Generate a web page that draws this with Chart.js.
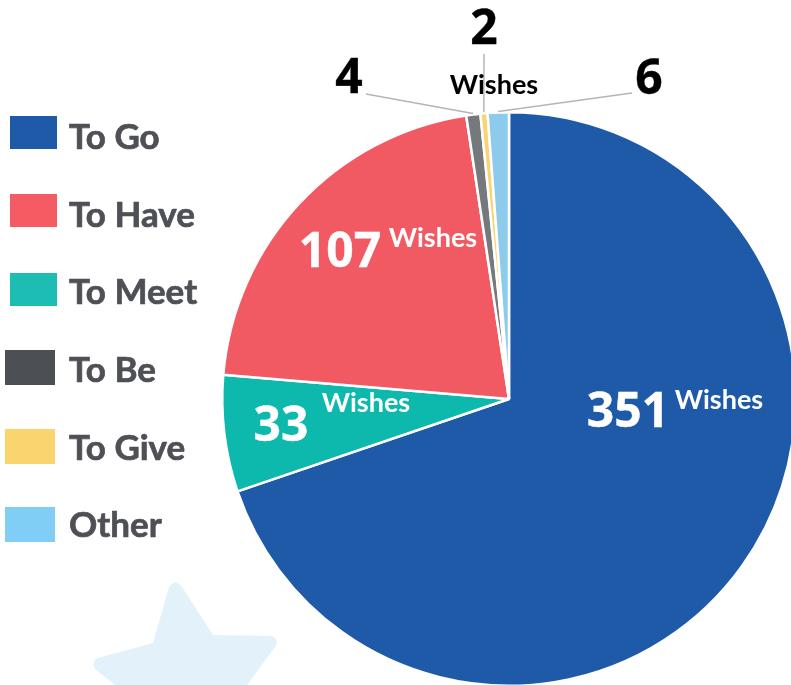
<!DOCTYPE html>
<html>
<head>
<meta charset="utf-8">
<style>
  html, body { margin: 0; padding: 0; background: #fff; overflow: hidden; width: 791px; height: 685px; }
  #wrap { position: relative; width: 791px; height: 685px; overflow: hidden; }
  #star { position: absolute; left: 0; top: 0; }
  #chart { position: absolute; left: 0; top: 0; }
</style>
<script src="https://cdn.jsdelivr.net/npm/chart.js@4"></script>
</head>
<body>
<div id="wrap">
  <svg id="star" width="791" height="685">
    <path d="M169 587 Q175 578 182 587 L213 635 L270 636 Q280 638 275 647 L247 685 L115 685 L96 670 Q90 662 98 658 L153 643 L169 587 Z" fill="#e3f1fb"/>
  </svg>
  <canvas id="chart" width="800" height="690" style="width:800px;height:690px"></canvas>
</div>
<script>
// slices go clockwise from the top
const categories = ['To Go', 'To Meet', 'To Have', 'To Be', 'To Give', 'Other'];
const wishes = [351, 33, 107, 4, 2, 6];
const sliceColors = ['#1f5aa8', '#0db8ad', '#f25a63', '#76797c', '#fbd36f', '#8ccbec'];

const legendOrder = ['To Go', 'To Have', 'To Meet', 'To Be', 'To Give', 'Other'];
const legendColors = ['#1f5aa8', '#f55b63', '#1dbdb3', '#4c4f54', '#fad56f', '#80cef5'];
const legendBoxes = [[10, 116, 47, 33], [10, 194, 47, 33], [10, 273, 47, 33], [5, 350, 50, 35], [5, 429, 50, 35], [5, 507, 50, 35]];
const legendTextY = [138, 216, 293, 371, 449, 526];

const unit = 'Wishes';
// big number x, y, colour, then where the unit word goes
const valueLabels = [
  [628, 413, '#fff', 719, 400],
  [281, 427, '#fff', 366, 403],
  [340, 253, '#fff', 433, 238],
  [349, 79, '#000', null, null],
  [484, 30, '#000', 494, 85],
  [649, 80, '#000', null, null]
];
// leader lines: elbow point beside the number, for the three small slices
const leaders = { 3: [366, 94], 4: [484, 54], 5: [632, 93] };

const overlay = {
  id: 'overlay',
  afterDatasetsDraw(chart) {
    const { ctx } = chart;
    const arcs = chart.getDatasetMeta(0).data;
    ctx.save();

    // legend
    legendOrder.forEach((name, i) => {
      const [x, y, w, h] = legendBoxes[i];
      ctx.fillStyle = legendColors[i];
      ctx.fillRect(x, y, w, h);
      ctx.fillStyle = '#4e5056';
      ctx.strokeStyle = '#4e5056';
      ctx.lineWidth = 0.7;
      ctx.font = '700 35px Lato';
      ctx.textAlign = 'left';
      ctx.textBaseline = 'middle';
      ctx.fillText(name, 69, legendTextY[i]);
      ctx.strokeText(name, 69, legendTextY[i]);
    });

    // leader lines
    ctx.strokeStyle = '#b5b5b5';
    ctx.lineWidth = 1.5;
    Object.keys(leaders).forEach(i => {
      const a = arcs[i];
      const mid = (a.startAngle + a.endAngle) / 2;
      ctx.beginPath();
      ctx.moveTo(leaders[i][0], leaders[i][1]);
      ctx.lineTo(a.x + Math.cos(mid) * (a.outerRadius + 1), a.y + Math.sin(mid) * (a.outerRadius + 1));
      ctx.stroke();
    });

    // numbers
    ctx.textAlign = 'center';
    ctx.textBaseline = 'middle';
    wishes.forEach((v, i) => {
      const [x, y, color, ux, uy] = valueLabels[i];
      ctx.fillStyle = color;
      ctx.strokeStyle = color;
      ctx.lineWidth = 0.4;
      ctx.font = '700 48px "Noto Sans"';
      ctx.fillText(String(v), x, y);
      ctx.strokeText(String(v), x, y);
      if (ux !== null) {
        ctx.font = '700 27px Lato';
        ctx.fillText(unit, ux, uy);
      }
    });
    ctx.restore();
  }
};

new Chart(document.getElementById('chart').getContext('2d'), {
  type: 'pie',
  data: {
    labels: categories,
    datasets: [{
      data: wishes,
      backgroundColor: sliceColors,
      borderColor: '#fff',
      borderWidth: 2.5
    }]
  },
  options: {
    responsive: false,
    animation: false,
    layout: { padding: { left: 221, right: 3, top: 111, bottom: 3 } },
    plugins: { legend: { display: false }, tooltip: { enabled: false } }
  },
  plugins: [overlay]
});
</script>
</body>
</html>
